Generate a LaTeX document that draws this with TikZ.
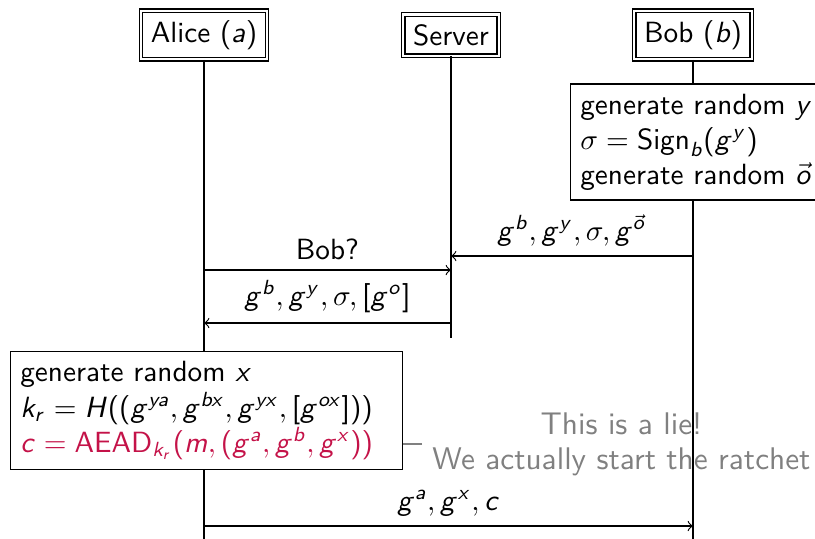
\documentclass[tikz,border=0pt]{standalone}
\renewcommand{\familydefault}{\sfdefault}
\DeclareSymbolFont{sfletters}{OT1}{cmss}{m}{sl}
\SetSymbolFont{operators}{normal}{OT1}{cmss}{m}{n}
\makeatletter
\count@=`a
\loop \mathcode\count@=\numexpr"7000+\symsfletters*"100+\count@\relax
\ifnum\count@<`z \advance\count@\@ne \repeat
\count@=`A
\loop \mathcode\count@=\numexpr"7000+\symsfletters*"100+\count@\relax
\ifnum\count@<`Z \advance\count@\@ne \repeat
\makeatother
\definecolor{lie}{RGB}{196,18,72}
\begin{document}
\begin{tikzpicture}[x=0.342pt,y=-0.342pt,
  actor/.style={draw,double,double distance=0.7pt,line width=0.4pt,fill=white},
  action/.style={draw,fill=white,align=left,line width=0.4pt},
  msg/.style={->,line width=0.4pt},
  lifeline/.style={line width=0.4pt},
  note/.style={text=gray,align=center,font=\fontsize{10.7}{12}\selectfont}]
\useasboundingbox (0,0) rectangle (815,538);
% participants
\node[actor] (alice) at (204,35) {Alice ($a$)};
\node[actor] (server) at (451,35) {Server};
\node[actor] (bob) at (693,35) {Bob ($b$)};
\coordinate (aend) at (204,545);
\coordinate (send) at (451,338);
\coordinate (bend) at (693,545);
\draw[lifeline] (alice.south) -- (aend);
\draw[lifeline] (server.south) -- (send);
\draw[lifeline] (bob.south) -- (bend);
% Bob action
\node[action,anchor=west] (bobact) at (570,142)
  {generate random $y$\\ $\sigma=\mathrm{Sign}_b(g^y)$\\ generate random $\vec{o}$};
% messages
\coordinate (m1b) at (693,256); \coordinate (m1s) at (451,256);
\draw[msg] (m1b) -- node[above] {$g^b,g^y,\sigma,g^{\vec{o}}$} (m1s);
\coordinate (m2a) at (204,270); \coordinate (m2s) at (451,270);
\draw[msg] (m2a) -- node[above] {Bob?} (m2s);
\coordinate (m3s) at (451,323); \coordinate (m3a) at (204,323);
\draw[msg] (m3s) -- node[above] {$g^b,g^y,\sigma,[g^o]$} (m3a);
% Alice action
\node[action,anchor=west,text width=127.4pt] (aliceact) at (10,410.5)
  {generate random $x$\\ $k_r=H((g^{ya},g^{bx},g^{yx},[g^{ox}]))$\\
   \color{lie}$c=\mathrm{AEAD}_{k_r}(m,(g^a,g^b,g^x))$};
% note
\node[note,anchor=west] (lie) at (422,444) {This is a lie!\\ We actually start the ratchet};
\draw[gray,line width=0.4pt] (lie.west) -- (lie.west -| aliceact.east);
% last message
\coordinate (m4a) at (204,526); \coordinate (m4b) at (693,526);
\draw[msg] (m4a) -- node[above] {$g^a,g^x,c$} (m4b);
\end{tikzpicture}
\end{document}
